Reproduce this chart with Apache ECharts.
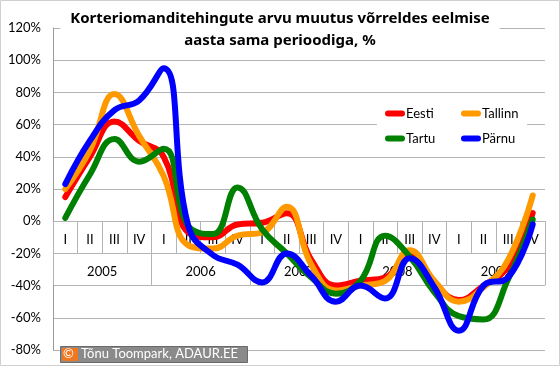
<!DOCTYPE html>
<html>
<head>
<meta charset="utf-8">
<script src="https://cdn.jsdelivr.net/npm/echarts@6/dist/echarts.min.js"></script>
<style>html,body{margin:0;padding:0;background:#fff}#c{width:560px;height:366px}</style>
</head>
<body>
<div id="c"></div>
<script>
const quarters = ['I','II','III','IV','I','II','III','IV','I','II','III','IV','I','II','III','IV','I','II','III','IV'];
const years = ['2005','2006','2007','2008','2009'];
const eesti   = [15, 40, 62, 50, 40, -7, -10, -2, -1, 5, -24, -40, -37, -35, -20, -38, -49, -40, -28, 5];
const tallinn = [20, 44, 79, 53, 28, -15, -17, -9, -7, 9, -27, -43, -40, -37, -18, -37, -50, -41, -24, 16];
const tartu   = [2, 29, 51, 37, 45, -3, -8, 21, -5, -20, -35, -45, -37, -9, -22, -44, -59, -61, -36, 1];
const parnu   = [23, 50, 69, 75, 95, -3, -21, -27, -38, -20, -34, -50, -40, -48, -23, -41, -68, -40, -35, -2];
const seriesNames = ['Eesti', 'Tallinn', 'Tartu', 'Pärnu'];
const seriesColors = ['#FF0000', '#FF9900', '#008000', '#0000FF'];
const yMin = -80, yMax = 120, yStep = 20;

const FONT = 'Lato';
const GRID_C = '#b4b4b4';
const capsule = 'path://M3,0H17A3,3,0,0,1,17,6H3A3,3,0,0,1,3,0Z';

const W = 560, H = 366;
const gridTop = 28, gridBottom = 16;
const plotH = H - gridTop - gridBottom;
// x axis sits on the 0 line of the value axis
const zeroOffset = -((0 - yMin) / (yMax - yMin)) * plotH;

const chart = echarts.init(document.getElementById('c'), null, {renderer: 'canvas'});
const dataSets = [eesti, tallinn, tartu, parnu];

const lblStyle = {interval: 0, fontSize: 13, color: '#000', fontFamily: FONT};

chart.setOption({
  animation: false,
  backgroundColor: '#fff',
  textStyle: {fontFamily: FONT},
  title: {
    text: 'Korteriomanditehingute arvu muutus võrreldes eelmise\naasta sama perioodiga, %',
    left: 'center', top: 6,
    padding: [2, 10, 2, 10],
    backgroundColor: '#fff',
    textStyle: {fontFamily: 'Noto Sans', fontSize: 15, fontWeight: 'bold', color: '#000', lineHeight: 22}
  },
  legend: [
    {data: ['Eesti', 'Tartu'], orient: 'vertical', left: 385, top: 107, padding: 0,
     itemGap: 12, itemWidth: 20, itemHeight: 6, icon: capsule,
     textStyle: {fontFamily: FONT, fontSize: 13, color: '#000', padding: [0,0,0,-4]}},
    {data: ['Tallinn', 'Pärnu'], orient: 'vertical', left: 461, top: 107, padding: 0,
     itemGap: 12, itemWidth: 20, itemHeight: 6, icon: capsule,
     textStyle: {fontFamily: FONT, fontSize: 13, color: '#000', padding: [0,0,0,-4]}}
  ],
  grid: {left: 53, right: 15, top: gridTop, bottom: gridBottom, containLabel: false, outerBoundsMode: 'none'},
  xAxis: [
    // quarter row: line, cell ticks and quarter labels
    {type: 'category', data: quarters, boundaryGap: true, position: 'bottom', offset: zeroOffset,
     axisLine: {onZero: false, lineStyle: {color: GRID_C}},
     axisTick: {show: true, interval: 0, length: 32, lineStyle: {color: GRID_C}},
     axisLabel: Object.assign({margin: 12}, lblStyle)},
    // year row: cell ticks and year labels
    {type: 'category', data: years, boundaryGap: true, position: 'bottom', offset: zeroOffset,
     axisLine: {show: false, onZero: false},
     axisTick: {show: true, interval: 0, length: 64, lineStyle: {color: GRID_C}},
     axisLabel: Object.assign({margin: 44}, lblStyle)}
  ],
  yAxis: {
    type: 'value', min: yMin, max: yMax, interval: yStep,
    axisLine: {show: true, lineStyle: {color: '#999'}},
    axisTick: {show: false},
    splitLine: {lineStyle: {color: GRID_C}},
    axisLabel: {formatter: '{value}%', margin: 12, fontSize: 13, color: '#000', fontFamily: FONT}
  },
  graphic: [
    {type: 'rect', z: 1, shape: {x: 377, y: 101, width: 150, height: 48}, style: {fill: '#fff'}},
    {type: 'rect', z: 10, shape: {x: 0.5, y: 0.5, width: 559, height: 365}, style: {fill: 'none', stroke: '#d0d0d0', lineWidth: 1}},
    {type: 'rect', z: 10, shape: {x: 60.5, y: 346.5, width: 187, height: 16}, style: {fill: '#8a8a8a', stroke: '#6a6a6a', lineWidth: 1}},
    {type: 'rect', z: 11, shape: {x: 62, y: 348, width: 16, height: 13}, style: {fill: '#ee7722'}},
    {type: 'text', z: 12, left: 63, top: 347, style: {text: '©', fill: '#fff', font: '13px ' + FONT}},
    {type: 'text', z: 12, left: 81, top: 347, style: {text: 'Tõnu Toompark, ADAUR.EE', fill: '#fff', font: '13px ' + FONT}}
  ],
  series: dataSets.map((d, i) => ({
    name: seriesNames[i], type: 'line', data: d, xAxisIndex: 0,
    smooth: 0.45, symbol: 'none', color: seriesColors[i],
    lineStyle: {width: 6, color: seriesColors[i], cap: 'round', join: 'round'},
    z: 2 + i
  }))
});
</script>
</body>
</html>
